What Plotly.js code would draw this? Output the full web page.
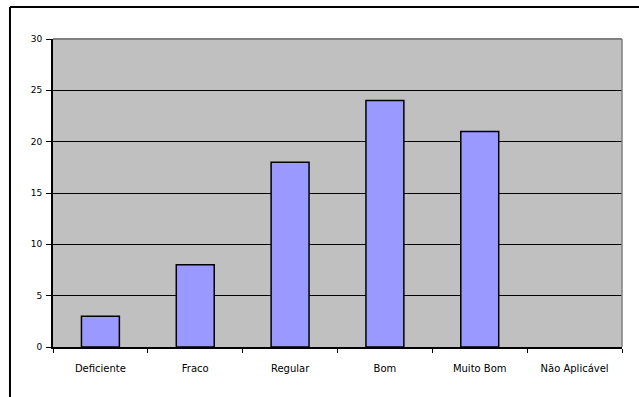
<!DOCTYPE html>
<html><head><meta charset="utf-8">
<script src="https://cdn.plot.ly/plotly-3.0.1.min.js"></script>
<style>html,body{margin:0;padding:0;background:#fff;overflow:hidden}</style>
</head><body>
<div id="chart" style="width:639px;height:397px"></div>
<script>
const categories = ["Deficiente", "Fraco", "Regular", "Bom", "Muito Bom", "Não Aplicável"];
const values = [3, 8, 18, 24, 21, 0];
const yTicks = [0, 5, 10, 15, 20, 25, 30];

const trace = {
  type: 'bar', x: categories, y: values,
  marker: {color: '#9999FF', line: {color: '#000', width: values.map(v => v > 0 ? 1.5 : 0)}},
  hoverinfo: 'none'
};
const font = {family: 'DejaVu Sans, Tahoma, sans-serif', size: 9, color: '#000'};
const xfont = {family: 'DejaVu Sans, Tahoma, sans-serif', size: 10, color: '#000'};
const layout = {
  width: 639, height: 397,
  margin: {l: 53, r: 17, t: 39, b: 50},
  paper_bgcolor: '#fff', plot_bgcolor: '#C0C0C0',
  bargap: 0.6, showlegend: false, font: font,
  xaxis: {type: 'category', tickson: 'boundaries', ticks: 'outside', ticklen: 4, tickcolor: '#000',
          showline: true, linecolor: '#000', linewidth: 2, showgrid: false, zeroline: false,
          tickfont: xfont, ticklabelstandoff: 11},
  yaxis: {range: [0, 30], tickvals: yTicks, ticks: 'outside', ticklen: 5, tickcolor: '#000',
          showline: true, linecolor: '#000', linewidth: 2, showgrid: true, gridcolor: '#000', gridwidth: 1,
          zeroline: false, tickfont: font, ticklabelstandoff: 2},
  shapes: [
    {type: 'line', xref: 'paper', yref: 'paper', x0: 0, x1: 1, y0: 1, y1: 1, line: {color: '#808080', width: 2}, layer: 'above'},
    {type: 'line', xref: 'paper', yref: 'paper', x0: 1, x1: 1, y0: 0, y1: 1, line: {color: '#808080', width: 1.5}, layer: 'above'},
    {type: 'line', xref: 'paper', yref: 'paper', x0: -0.0756, x1: 1.03, y0: 1.1039, y1: 1.1039, line: {color: '#000', width: 2}, layer: 'above'},
    {type: 'line', xref: 'paper', yref: 'paper', x0: -0.0756, x1: -0.0756, y0: -0.163, y1: 1.1039, line: {color: '#000', width: 2}, layer: 'above'}
  ]
};
Plotly.newPlot('chart', [trace], layout, {staticPlot: true, displayModeBar: false});
</script>
</body></html>
